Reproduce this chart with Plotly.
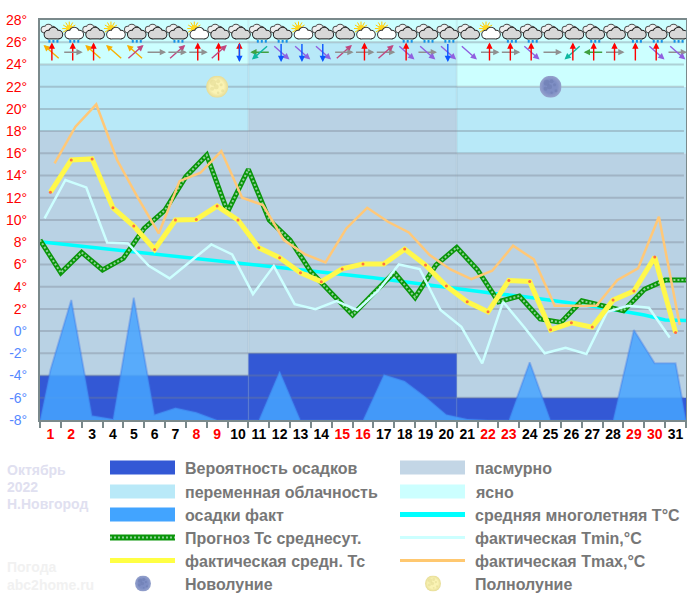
#!/usr/bin/env python3
"""Monthly temperature and weather chart, October 2022, N. Novgorod."""

import base64

import numpy as np
import plotly.graph_objects as go

FONT = "Liberation Sans"

days = np.arange(1, 32)
month_ticks = np.arange(0, 32)

# values
t_fact = [12.5, 15.4, 15.5, 11.1, 9.45, 7.35, 10.0, 10.05, 11.25, 10.0, 7.5, 6.6, 5.25, 4.45, 5.6, 6.03,
          6.03, 7.38, 5.94, 4.05, 2.64, 1.74, 4.56, 4.47, 0.12, 0.75, 0.36, 2.79, 3.6, 6.66, -0.12]
t_max = [15.1, 18.4, 20.4, 15.4, 12.0, 8.8, 13.5, 14.25, 16.2, 12.0, 11.35, 8.2, 6.93, 6.18, 9.24, 11.1,
         9.84, 8.88, 6.84, 5.55, 4.68, 5.43, 7.68, 6.45, 2.28, 2.28, 2.28, 4.59, 5.64, 10.29, 0.54]
t_min = [10.14, 13.6, 12.93, 7.98, 7.89, 5.88, 4.74, 6.24, 7.8, 6.9, 3.33, 5.85, 2.43, 1.98, 2.7, 1.9,
         3.63, 6.0, 5.59, 1.9, 0.39, -2.9, 2.64, 0.39, -2.0, -1.5, -2.06, 1.74, 2.28, 2.1, -0.57]
t_forecast = [8.2, 5.25, 7.08, 5.5, 6.54, 9.24, 10.9, 13.9, 15.84, 10.74, 14.55, 10.0, 8.2, 5.34, 3.39, 1.45,
              3.39, 5.28, 3.03, 5.94, 7.53, 5.5, 2.64, 3.15, 1.09, 0.78, 2.73, 2.25, 1.83, 3.75, 4.59, 4.59]
t_norm = [8.05, 7.85, 7.65, 7.45, 7.25, 7.05, 6.85, 6.65, 6.45, 6.25, 6.05, 5.85, 5.65, 5.45, 5.25, 5.0,
          4.8, 4.55, 4.3, 4.05, 3.8, 3.6, 3.35, 3.15, 2.9, 2.7, 2.4, 2.1, 1.8, 1.45, 1.0, 0.95]
precip_fact = [-3.5, 2.8, -7.6, -7.9, 3.0, -7.5, -6.9, -7.3, -8, -8, -8, -3.6, -8, -8, -8, -8,
               -3.9, -4.5, -5.9, -7.5, -7.9, -8, -8, -2.8, -8, -8, -8, -8, 0.1, -2.9, -2.9]

decade_start = [0, 10, 20]
decade_len = [10, 10, 11]
precip_prob = [-4, -2, -6]
overcast_top = [18, 20, 16]
variable_top = [24, 26, 22]

y_ticks = list(range(-8, 29, 2))
weekend_days = [1, 2, 8, 9, 15, 16, 22, 23, 29, 30]

# o = overcast, s = sunny spells, r = rain below the cloud
sky = ["or", "sr", "o", "s", "or", "o", "or", "s", "o", "o", "or", "or", "s", "o", "o", "s",
       "s", "or", "or", "or", "o", "s", "or", "or", "o", "o", "or", "o", "or", "or", "or"]
wind = [("nw", "n"), ("n", "e"), ("nw", "n"), ("nw",), ("nw", "ne"), ("e",), ("ne", "e"), ("e", "n"),
        ("n", "ne"), ("n", "s"), ("w", "sw"), ("se", "s"), ("se", "s"), ("se", "s"), ("ne", "e"), ("e", "n"),
        ("e", "ne"), ("se", "n"), ("e", "se"), ("se", "s"), ("se",), ("e", "n"), ("e", "n"), ("se", "n"),
        ("e",), ("sw", "n"), ("w", "n"), ("e", "n"), ("n",), ("se", "n"), ("e", "se")]
new_moon_day = 25
full_moon_day = 9
moon_level = 22

wind_colors = {"n": "#ff0000", "s": "#0a55ff", "e": "#909090", "w": "#40a040",
               "nw": "#f8b000", "ne": "#c04880", "se": "#9060e0", "sw": "#10b8a0"}
wind_tip = {"n": (0, 0.88), "s": (0, -0.88), "e": (0.48, 0), "w": (-0.48, 0),
            "nw": (-0.4, 0.66), "ne": (0.4, 0.66), "se": (0.4, -0.66), "sw": (-0.4, -0.66)}

legend_left = [("bar", "#3358d5", "Вероятность осадков"),
               ("bar", "#b9e9f8", "переменная облачность"),
               ("bar", "#42a4ff", "осадки факт"),
               ("forecast", "#0a960a", "Прогноз Тс среднесут."),
               ("line", "#ffff44", "фактическая средн. Тс"),
               ("new", "", "Новолуние")]
legend_right = [("bar", "#c3d6e6", "пасмурно"),
                ("bar", "#ccffff", "ясно"),
                ("line", "#00ffff", "средняя многолетняя T°C"),
                ("thin", "#ccffff", "фактическая Tmin,°C"),
                ("thin", "#ffc870", "фактическая Tmax,°C"),
                ("full", "", "Полнолуние")]
legend_rows = [468, 492, 515, 538, 561, 584]


def svg_uri(body, w, h):
    svg = f'<svg xmlns="http://www.w3.org/2000/svg" width="{w}" height="{h}" viewBox="0 0 {w} {h}">{body}</svg>'
    return "data:image/svg+xml;base64," + base64.b64encode(svg.encode()).decode()


def cloud(parts, fill, stroke):
    """Outlined union of circles and a base rectangle."""
    circles, rect = parts
    out = ""
    for cx, cy, r in circles:
        out += f'<circle cx="{cx}" cy="{cy}" r="{r}" fill="{stroke}" stroke="{stroke}" stroke-width="2"/>'
    x, y, w, h = rect
    out += f'<rect x="{x}" y="{y}" width="{w}" height="{h}" fill="{stroke}" stroke="{stroke}" stroke-width="2"/>'
    for cx, cy, r in circles:
        out += f'<circle cx="{cx}" cy="{cy}" r="{r}" fill="{fill}"/>'
    out += f'<rect x="{x}" y="{y}" width="{w}" height="{h}" fill="{fill}"/>'
    return out


FRONT = ([(12, 14, 3.8), (17, 11.5, 4.4), (22, 14, 3.8)], (12, 14, 10, 3.8))
BACK = ([(8, 9, 2.8), (12, 7.5, 3.4), (16, 9, 2.8)], (8, 9, 8, 2.8))


def sky_icon(kind):
    body = ""
    if "s" in kind:
        rays = ""
        for a in np.arange(0, 360, 30):
            c, s = np.cos(np.radians(a)), np.sin(np.radians(a))
            rays += (f'<line x1="{12 + 3 * c:.1f}" y1="{8 + 3 * s:.1f}" x2="{12 + 7 * c:.1f}" y2="{8 + 7 * s:.1f}" '
                     'stroke="#ffcc00" stroke-width="1"/>')
        body += rays + '<circle cx="12" cy="8" r="3.5" fill="#ffd820"/>'
        body += cloud(FRONT, "#ffffff", "#303030")
    else:
        body += cloud(BACK, "#eeeeee", "#505050")
        body += cloud(FRONT, "#d8d8d8", "#202020")
    if "r" in kind:
        for x in (12, 16, 20):
            body += f'<rect x="{x}" y="19.5" width="2" height="2.6" fill="#1090e8"/>'
    return svg_uri(body, 28, 24)


def moon_icon(base, edge, spots, opacity):
    body = (f'<defs><radialGradient id="g"><stop offset="0.6" stop-color="{base}"/>'
            f'<stop offset="1" stop-color="{edge}"/></radialGradient></defs>'
            '<circle cx="22" cy="22" r="22" fill="url(#g)"/>')
    for cx, cy, r in [(14, 14, 6), (24, 11, 4), (12, 26, 4), (20, 22, 5), (30, 18, 3), (33, 30, 3), (24, 34, 2.5)]:
        body += f'<circle cx="{cx}" cy="{cy}" r="{r}" fill="{spots}" opacity="{opacity}"/>'
    return svg_uri(body, 44, 44)


NEW_MOON = moon_icon("#7e8ec4", "#95a2cc", "#6878ac", 0.45)
FULL_MOON = moon_icon("#faf3b4", "#e6dc96", "#e0d890", 0.5)

PLOT_LEFT, PLOT_TOP, PLOT_W, PLOT_H = 40, 20, 646, 400
DAY_PX = PLOT_W / 31
DEG_PX = PLOT_H / 36


def paper_x(px):
    return (px - PLOT_LEFT) / PLOT_W


def paper_y(py):
    return (PLOT_TOP + PLOT_H - py) / PLOT_H


fig = go.Figure()

# cloud cover bands and precipitation probability, one block per ten-day period
starts = np.array(decade_start)
for base, top, color in [(np.full(3, -8), overcast_top, "#b9d2e4"),
                         (overcast_top, variable_top, "#b8e9f8"),
                         (variable_top, np.full(3, 28), "#ccffff"),
                         (np.full(3, -8), precip_prob, "#3358d5")]:
    fig.add_trace(go.Bar(x=starts, y=np.array(top) - np.array(base), base=base, width=decade_len, offset=0,
                         marker=dict(color=color, line=dict(width=0))))

grid_x, grid_y = [], []
for v in y_ticks[1:-1]:
    grid_x += [0, 30.9, None]
    grid_y += [v, v, None]
fig.add_trace(go.Scatter(x=grid_x, y=grid_y, mode="lines",
                         line=dict(color="rgba(118,128,140,0.36)", width=2)))

# faint seams where the ten-day blocks meet
seam_x, seam_y = [], []
for s in decade_start[1:]:
    seam_x += [s, s, None]
    seam_y += [-8, 28, None]
fig.add_trace(go.Scatter(x=seam_x, y=seam_y, mode="lines",
                         line=dict(color="rgba(120,150,160,0.14)", width=2)))

day_mid = days - 0.5
fig.add_trace(go.Scatter(x=np.concatenate(([0], day_mid, [31])), y=[-8] + precip_fact + [-8],
                         mode="lines", fill="toself", fillcolor="rgba(70,165,255,0.85)",
                         line=dict(color="rgba(60,115,230,0.35)", width=2)))

fig.add_trace(go.Scatter(x=month_ticks, y=t_norm, mode="lines", line=dict(color="#00ffff", width=3.5)))
fig.add_trace(go.Scatter(x=month_ticks, y=t_forecast, mode="lines", line=dict(color="#0a960a", width=5)))
fig.add_trace(go.Scatter(x=month_ticks, y=t_forecast, mode="lines",
                         line=dict(color="#8fd09a", width=2, dash="2px,2px")))
fig.add_trace(go.Scatter(x=days - 0.78, y=t_min, mode="lines", line=dict(color="#ccffff", width=2.5)))
fig.add_trace(go.Scatter(x=days - 0.3, y=t_max, mode="lines", line=dict(color="#ffc878", width=2.5)))
fig.add_trace(go.Scatter(x=day_mid, y=t_fact, mode="lines+markers", line=dict(color="#fff84a", width=5),
                         marker=dict(color="#ff7040", size=3)))

images = []
for d, kind in zip(days, sky):
    images.append(dict(source=sky_icon(kind), xref="x", yref="y", x=d - 0.5, y=27.95,
                       sizex=28 / DAY_PX, sizey=24 / DEG_PX, xanchor="center", yanchor="top",
                       sizing="stretch", layer="above"))
for d, src in [(full_moon_day, FULL_MOON), (new_moon_day, NEW_MOON)]:
    images.append(dict(source=src, xref="x", yref="y", x=d - 0.5, y=moon_level,
                       sizex=22 / DAY_PX, sizey=22 / DEG_PX, xanchor="center", yanchor="middle",
                       sizing="stretch", layer="above"))

annotations = []
for d, dirs in zip(days, wind):
    for key in dirs:
        dx, dy = wind_tip[key]
        annotations.append(dict(x=d - 0.43 + dx, y=25.1 + dy, ax=d - 0.43 - dx, ay=25.1 - dy,
                                xref="x", yref="y", axref="x", ayref="y", text="", showarrow=True,
                                arrowhead=2, arrowsize=0.9, arrowwidth=1.4, arrowcolor=wind_colors[key]))

shapes = []
for items, swatch_x, text_x in [(legend_left, 110, 183), (legend_right, 400, 473)]:
    for (kind, color, label), row in zip(items, legend_rows):
        annotations.append(dict(x=paper_x(text_x), y=paper_y(row), xref="paper", yref="paper", text=f"<b>{label}</b>",
                                showarrow=False, xanchor="left", yanchor="middle",
                                font=dict(family=FONT, size=16, color="#777777")))
        if kind in ("new", "full"):
            images.append(dict(source=NEW_MOON if kind == "new" else FULL_MOON, xref="paper", yref="paper",
                               x=paper_x(swatch_x + 33), y=paper_y(row - 0.5), sizex=16 / PLOT_W, sizey=16 / PLOT_H,
                               xanchor="center", yanchor="middle", sizing="stretch", layer="above"))
            continue
        half = {"bar": 7, "forecast": 3, "line": 2.5, "thin": 1.5}[kind]
        shapes.append(dict(type="rect", xref="paper", yref="paper", x0=paper_x(swatch_x), x1=paper_x(swatch_x + 65),
                           y0=paper_y(row - 0.5 - half), y1=paper_y(row - 0.5 + half),
                           fillcolor=color, line=dict(width=0), layer="above"))
        if kind == "forecast":
            shapes.append(dict(type="line", xref="paper", yref="paper", x0=paper_x(swatch_x), x1=paper_x(swatch_x + 65),
                               y0=paper_y(row - 0.5), y1=paper_y(row - 0.5),
                               line=dict(color="#8fd09a", width=2, dash="2px,2px"), layer="above"))

for text, row, color in [("Октябрь", 470, "#e0e0f0"), ("2022", 487, "#e0e0f0"), ("Н.Новгород", 504, "#e0e0f0"),
                         ("Погода", 567, "#f1f1f1"), ("abc2home.ru", 585, "#f1f1f1")]:
    annotations.append(dict(x=paper_x(5), y=paper_y(row), xref="paper", yref="paper", text=f"<b>{text}</b>",
                            showarrow=False, xanchor="left", yanchor="middle",
                            font=dict(family=FONT, size=14, color=color)))

y_labels = [f'<span style="color:{"#ff0000" if v > 0 else "#5588ff"}">{v}°</span>' for v in y_ticks]
x_labels = [f'<b><span style="color:{"#ff0000" if d in weekend_days else "#000000"}">{d}</span></b>' for d in days]
AXIS_GRAY = "#7a898b"

fig.update_layout(
    width=687, height=599, margin=dict(l=PLOT_LEFT, r=1, t=PLOT_TOP, b=179, pad=0),
    paper_bgcolor="#ffffff", plot_bgcolor="#ffffff", showlegend=False, barmode="overlay",
    font=dict(family=FONT), images=images, annotations=annotations, shapes=shapes,
)
fig.update_xaxes(range=[0, 31], tickmode="array", tickvals=day_mid, ticktext=x_labels, ticks="", tickangle=0,
                 tickfont=dict(family=FONT, size=14), showgrid=False, zeroline=False, automargin=False,
                 showline=True, mirror=True, linecolor=AXIS_GRAY, linewidth=2,
                 minor=dict(tickmode="array", tickvals=month_ticks, ticks="outside", ticklen=6,
                            tickwidth=2, tickcolor=AXIS_GRAY, showgrid=False))
fig.update_yaxes(range=[-8, 28], tickmode="array", tickvals=y_ticks, ticktext=y_labels, ticks="",
                 ticklabelstandoff=8, tickfont=dict(family=FONT, size=14), showgrid=False, zeroline=False,
                 automargin=False, showline=True, mirror=True, linecolor=AXIS_GRAY, linewidth=2)

fig.write_html("out.html", post_script="document.body.style.margin='0';",
               config=dict(displayModeBar=False))
